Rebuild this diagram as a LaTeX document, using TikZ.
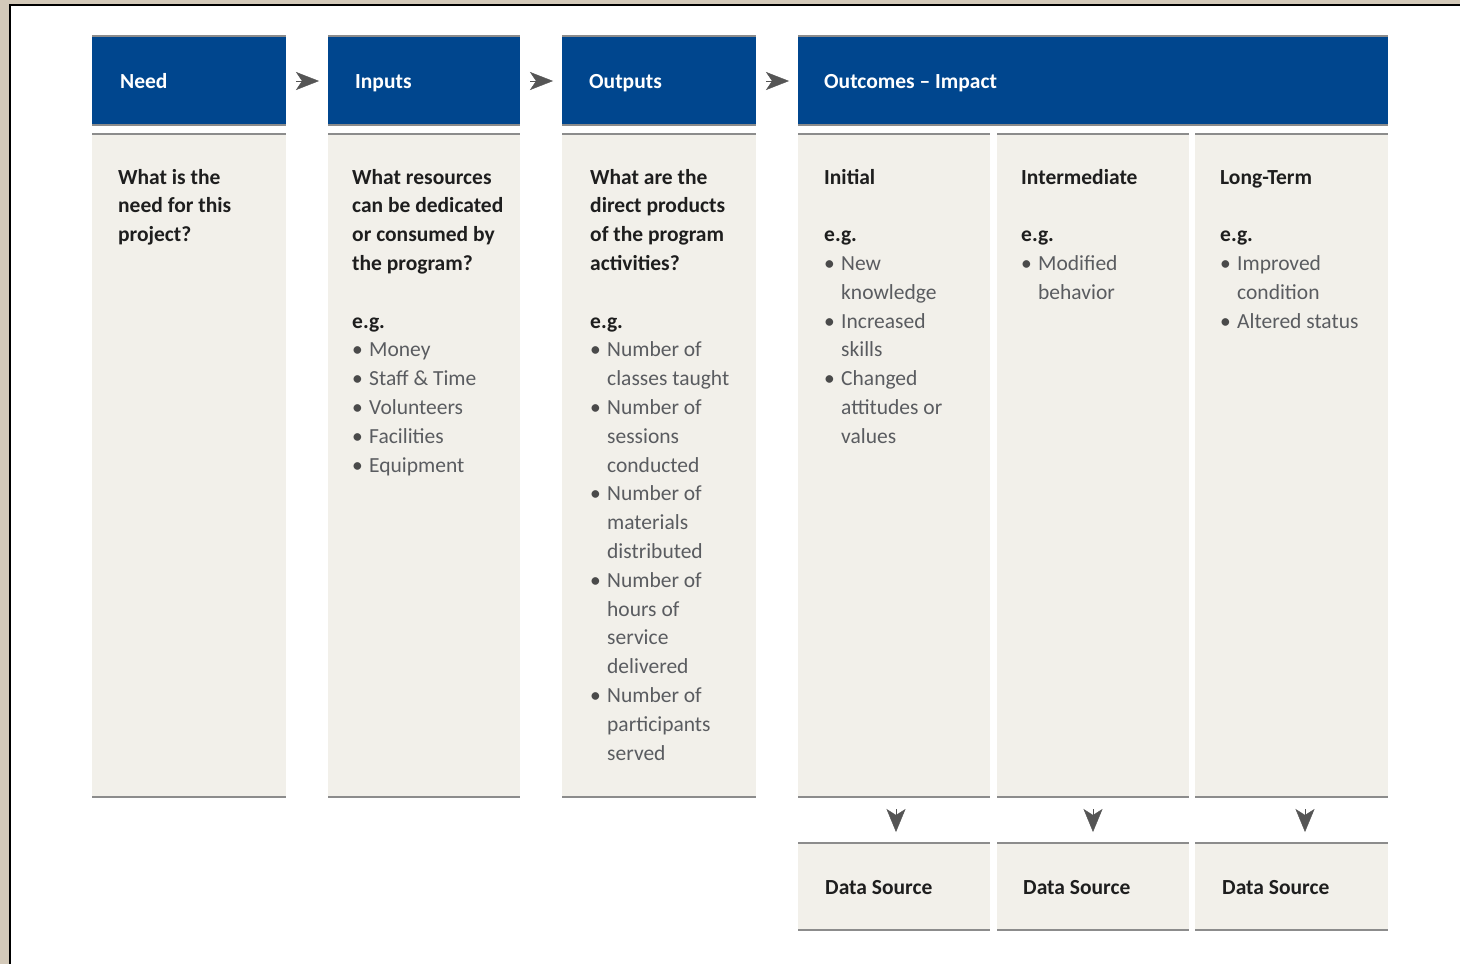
\documentclass[tikz,border=0pt]{standalone}
\usepackage{fontspec}
\setmainfont{Carlito}
\usetikzlibrary{arrows.meta,calc}
\definecolor{tanbg}{HTML}{D3C9B9}
\definecolor{lmblue}{HTML}{00468E}
\definecolor{beige}{HTML}{F2F0EA}
\definecolor{rulegray}{HTML}{8C8C8C}
\definecolor{txtgray}{HTML}{5A5C60}
\definecolor{txtdark}{HTML}{1E1E1E}
\definecolor{bulgray}{HTML}{4A4A4A}
\definecolor{arrowgray}{HTML}{555555}
\newcommand\colfont{\fontsize{21.5}{28.8}\selectfont}
\newcommand\bul{\makebox[17pt][l]{\textcolor{bulgray}{•}}}
\newcommand\gitem[1]{\bul\textcolor{txtgray}{#1}}
\newcommand\gcont[1]{\hspace*{17pt}\textcolor{txtgray}{#1}}
\newcommand\coltxt[1]{\parbox[t]{185pt}{\colfont\raggedright\leavevmode\color{txtdark}#1}}
\tikzset{
  hdr/.style={fill=lmblue, anchor=north west, minimum height=90pt, inner sep=0pt, outer sep=0pt},
  bodybox/.style={fill=beige, anchor=north west, minimum height=665pt, inner sep=0pt, outer sep=0pt},
  databox/.style={fill=beige, anchor=north west, minimum height=89pt, inner sep=0pt, outer sep=0pt},
  hdrtext/.style={anchor=base west, inner sep=0pt, text=white, font=\colfont\bfseries},
  coltext/.style={anchor=base west, inner sep=0pt, font=\colfont},
  flowright/.style={draw=arrowgray, line width=0.4pt, shorten <=10pt, shorten >=9pt,
     -{Stealth[length=23pt, width=18pt, inset=6pt, fill=arrowgray]}},
  flowdown/.style={draw=arrowgray, line width=0.4pt, shorten <=11pt, shorten >=10pt,
     -{Stealth[length=23pt, width=19pt, inset=6pt, fill=arrowgray]}},
  rulethin/.style={draw=rulegray, line width=1.2pt},
  rulethick/.style={draw=rulegray, line width=2pt},
}
\begin{document}
\begin{tikzpicture}[x=1pt,y=-1pt]
\useasboundingbox (0,0) rectangle (1460,964);
% background and frame
\fill[tanbg] (0,0) rectangle (1460,964);
\fill[white] (9,4) rectangle (1460,964);
\draw[black, line width=2.4pt] (9.9,964) -- (9.9,5) -- (1460,5);

% header boxes
\node[hdr, minimum width=194pt] (hneed) at (92,36) {};
\node[hdr, minimum width=192pt] (hinp) at (328,36) {};
\node[hdr, minimum width=194pt] (hout) at (562,36) {};
\node[hdr, minimum width=590pt] (hocm) at (798,36) {};
\foreach \h in {hneed,hinp,hout,hocm}{
  \draw[rulethin] (\h.north west) -- (\h.north east);
  \draw[rulethick] ([yshift=1pt]\h.south west) -- ([yshift=1pt]\h.south east);
}
\node[hdrtext] (tneed) at (120,88) {Need};
\node[hdrtext] (tinp) at (355,88) {Inputs};
\node[hdrtext] (tout) at (589,88) {Outputs};
\node[hdrtext] (tocm) at (824,88) {Outcomes – Impact};

% body boxes
\node[bodybox, minimum width=194pt] (bneed) at (92,133) {};
\node[bodybox, minimum width=192pt] (binp) at (328,133) {};
\node[bodybox, minimum width=194pt] (bout) at (562,133) {};
\node[bodybox, minimum width=192pt] (binit) at (798,133) {};
\node[bodybox, minimum width=192pt] (bmid) at (997,133) {};
\node[bodybox, minimum width=193pt] (blong) at (1195,133) {};
\foreach \b in {bneed,binp,bout,binit,bmid,blong}{
  \draw[rulethick] ([yshift=-1pt]\b.north west) -- ([yshift=-1pt]\b.north east);
  \draw[rulethick] ([yshift=1pt]\b.south west) -- ([yshift=1pt]\b.south east);
}

% data source boxes
\node[databox, minimum width=192pt] (dinit) at (798,842) {};
\node[databox, minimum width=192pt] (dmid) at (997,842) {};
\node[databox, minimum width=193pt] (dlong) at (1195,842) {};
\foreach \d in {dinit,dmid,dlong}{
  \draw[rulethick] ([yshift=-1pt]\d.north west) -- ([yshift=-1pt]\d.north east);
  \draw[rulethick] ([yshift=1pt]\d.south west) -- ([yshift=1pt]\d.south east);
}
\node[coltext, text=txtdark, font=\colfont\bfseries] (sinit) at (825,894) {Data Source};
\node[coltext, text=txtdark, font=\colfont\bfseries] (smid) at (1023,894) {Data Source};
\node[coltext, text=txtdark, font=\colfont\bfseries] (slong) at (1222,894) {Data Source};

% column texts
\node[coltext] (cneed) at (118,184) {\coltxt{\bfseries What is the\\need for this\\project?}};
\node[coltext] (cinp) at (352,184) {\coltxt{\textbf{What resources}\\\textbf{can be dedicated}\\\textbf{or consumed by}\\\textbf{the program?}\\[28.8pt]
  \textbf{e.g.}\\\gitem{Money}\\\gitem{Staff \& Time}\\\gitem{Volunteers}\\\gitem{Facilities}\\\gitem{Equipment}}};
\node[coltext] (cout) at (590,184) {\coltxt{\textbf{What are the}\\\textbf{direct products}\\\textbf{of the program}\\\textbf{activities?}\\[28.8pt]
  \textbf{e.g.}\\\gitem{Number of}\\\gcont{classes taught}\\\gitem{Number of}\\\gcont{sessions}\\\gcont{conducted}\\
  \gitem{Number of}\\\gcont{materials}\\\gcont{distributed}\\\gitem{Number of}\\\gcont{hours of}\\\gcont{service}\\\gcont{delivered}\\
  \gitem{Number of}\\\gcont{participants}\\\gcont{served}}};
\node[coltext] (cinit) at (824,184) {\coltxt{\textbf{Initial}\\[28.8pt]\textbf{e.g.}\\\gitem{New}\\\gcont{knowledge}\\\gitem{Increased}\\\gcont{skills}\\\gitem{Changed}\\\gcont{attitudes or}\\\gcont{values}}};
\node[coltext] (cmid) at (1021,184) {\coltxt{\textbf{Intermediate}\\[28.8pt]\textbf{e.g.}\\\gitem{Modified}\\\gcont{behavior}}};
\node[coltext] (clong) at (1220,184) {\coltxt{\textbf{Long-Term}\\[28.8pt]\textbf{e.g.}\\\gitem{Improved}\\\gcont{condition}\\\gitem{Altered status}}};

% connectors
\draw[flowright] (hneed.east) -- (hinp.west);
\draw[flowright] (hinp.east) -- (hout.west);
\draw[flowright] (hout.east) -- (hocm.west);
\draw[flowdown] ([xshift=2pt]binit.south) -- ([xshift=2pt]dinit.north);
\draw[flowdown] (bmid.south) -- (dmid.north);
\draw[flowdown] ([xshift=13.5pt]blong.south) -- ([xshift=13.5pt]dlong.north);
\end{tikzpicture}
\end{document}
